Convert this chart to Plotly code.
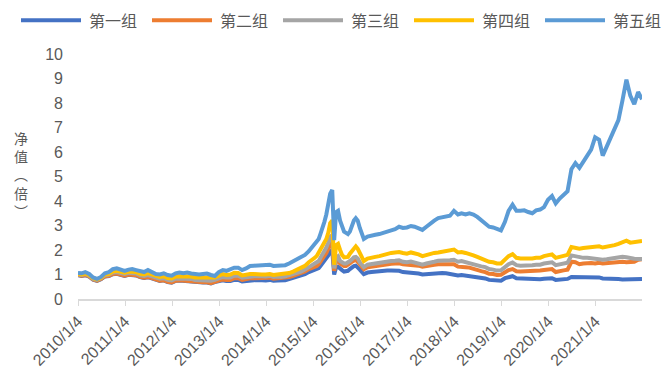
import plotly.graph_objects as go

# ---- categories (dates) ----
years = list(range(2010, 2022))
dates = []
for y in years:
    for m in range(1, 13):
        if y == 2015:
            dates.append(f"{y}-{m:02d}-01")
            dates.append(f"{y}-{m:02d}-16")
        else:
            dates.append(f"{y}-{m:02d}-01")
dates[0] = "2010-01-04"
dates.append("2021-12-31")

tick_dates = [f"{y}-01-04" for y in years]
tick_labels = [f"{y}/1/4" for y in years]

series_names = ["第一组", "第二组", "第三组", "第四组", "第五组"]

# ---- series values ----
g1 = [
    0.97, 0.94, 0.97, 0.91, 0.79, 0.74, 0.81, 0.92, 0.94, 1.01, 1.03, 0.97,
    0.94, 0.99, 0.99, 0.96, 0.89, 0.86, 0.89, 0.84, 0.77, 0.74, 0.76, 0.69,
    0.67, 0.74, 0.75, 0.73, 0.75, 0.72, 0.69, 0.67, 0.67, 0.67, 0.64, 0.69,
    0.72, 0.76, 0.73, 0.73, 0.78, 0.78, 0.72, 0.75, 0.77, 0.77, 0.78, 0.76,
    0.76, 0.78, 0.75, 0.76, 0.75, 0.77, 0.81, 0.85, 0.90, 0.95, 1.01, 1.10,
    1.16, 1.18, 1.20, 1.26, 1.35, 1.45, 1.55, 1.65, 1.78, 1.95, 1.98, 1.00,
    1.30, 1.32, 1.22, 1.18, 1.12, 1.12, 1.15, 1.22, 1.30, 1.34, 1.36, 1.30,
    1.20, 1.02, 1.08, 1.10, 1.12, 1.12, 1.15, 1.16, 1.16, 1.16, 1.15, 1.10,
    1.08, 1.10, 1.08, 1.04, 1.00, 1.02, 1.04, 1.06, 1.08, 1.06, 1.05, 1.02,
    1.02, 0.96, 0.98, 0.96, 0.95, 0.92, 0.90, 0.86, 0.84, 0.78, 0.77, 0.74,
    0.75, 0.85, 0.90, 0.93, 0.85, 0.84, 0.82, 0.80, 0.82, 0.82, 0.81, 0.83,
    0.85, 0.85, 0.78, 0.80, 0.80, 0.82, 0.90, 0.90, 0.86, 0.87, 0.88, 0.88,
    0.87, 0.88, 0.84, 0.84, 0.85, 0.84, 0.82, 0.80, 0.80, 0.80, 0.80, 0.81,
    0.82,
]
g2 = [
    0.98, 0.95, 0.98, 0.92, 0.80, 0.75, 0.82, 0.93, 0.95, 1.02, 1.04, 0.98,
    0.95, 1.00, 1.00, 0.97, 0.90, 0.87, 0.90, 0.85, 0.78, 0.75, 0.77, 0.70,
    0.68, 0.75, 0.76, 0.74, 0.76, 0.73, 0.70, 0.68, 0.68, 0.68, 0.65, 0.70,
    0.75, 0.80, 0.78, 0.78, 0.85, 0.85, 0.78, 0.82, 0.85, 0.85, 0.86, 0.84,
    0.84, 0.87, 0.83, 0.85, 0.83, 0.86, 0.90, 0.95, 1.00, 1.05, 1.12, 1.22,
    1.28, 1.30, 1.35, 1.42, 1.52, 1.62, 1.75, 1.88, 2.05, 2.25, 2.30, 1.15,
    1.55, 1.58, 1.45, 1.40, 1.35, 1.35, 1.38, 1.45, 1.52, 1.58, 1.60, 1.52,
    1.40, 1.22, 1.30, 1.33, 1.35, 1.36, 1.40, 1.42, 1.44, 1.45, 1.46, 1.42,
    1.40, 1.42, 1.40, 1.36, 1.32, 1.36, 1.38, 1.40, 1.42, 1.43, 1.44, 1.42,
    1.42, 1.32, 1.33, 1.30, 1.28, 1.22, 1.18, 1.14, 1.10, 1.03, 1.02, 0.98,
    0.99, 1.10, 1.18, 1.22, 1.13, 1.12, 1.12, 1.12, 1.14, 1.15, 1.16, 1.18,
    1.20, 1.22, 1.10, 1.15, 1.17, 1.20, 1.52, 1.50, 1.42, 1.45, 1.48, 1.47,
    1.45, 1.48, 1.45, 1.47, 1.50, 1.50, 1.50, 1.52, 1.50, 1.50, 1.52, 1.60,
    1.62,
]
g3 = [
    1.00, 0.98, 1.02, 0.95, 0.82, 0.78, 0.85, 0.97, 1.00, 1.08, 1.10, 1.05,
    1.02, 1.07, 1.07, 1.04, 0.97, 0.94, 0.98, 0.93, 0.85, 0.83, 0.85, 0.78,
    0.76, 0.83, 0.84, 0.83, 0.85, 0.82, 0.78, 0.77, 0.78, 0.78, 0.75, 0.78,
    0.85, 0.90, 0.88, 0.88, 0.95, 0.95, 0.87, 0.90, 0.93, 0.93, 0.94, 0.92,
    0.92, 0.95, 0.90, 0.92, 0.90, 0.93, 0.97, 1.02, 1.08, 1.12, 1.20, 1.30,
    1.38, 1.42, 1.48, 1.55, 1.68, 1.80, 1.95, 2.10, 2.30, 2.55, 2.60, 1.25,
    1.70, 1.75, 1.55, 1.50, 1.45, 1.45, 1.48, 1.55, 1.62, 1.70, 1.72, 1.65,
    1.50, 1.30, 1.40, 1.43, 1.45, 1.47, 1.50, 1.53, 1.55, 1.56, 1.58, 1.52,
    1.50, 1.53, 1.50, 1.45, 1.40, 1.45, 1.50, 1.52, 1.56, 1.58, 1.60, 1.58,
    1.60, 1.52, 1.55, 1.50, 1.48, 1.42, 1.38, 1.33, 1.30, 1.22, 1.20, 1.16,
    1.17, 1.30, 1.42, 1.49, 1.38, 1.36, 1.36, 1.35, 1.38, 1.40, 1.40, 1.45,
    1.48, 1.50, 1.38, 1.42, 1.45, 1.48, 1.78, 1.75, 1.68, 1.68, 1.68, 1.66,
    1.63, 1.65, 1.60, 1.62, 1.65, 1.68, 1.70, 1.72, 1.70, 1.65, 1.64, 1.63,
    1.63,
]
g4 = [
    1.02, 1.00, 1.04, 0.97, 0.85, 0.80, 0.87, 1.00, 1.03, 1.12, 1.15, 1.10,
    1.07, 1.12, 1.13, 1.10, 1.03, 1.00, 1.06, 1.00, 0.92, 0.90, 0.93, 0.86,
    0.84, 0.92, 0.93, 0.92, 0.95, 0.92, 0.88, 0.88, 0.90, 0.90, 0.86, 0.88,
    0.95, 1.02, 0.98, 1.00, 1.07, 1.06, 0.96, 1.00, 1.02, 1.02, 1.03, 1.00,
    1.00, 1.02, 0.98, 1.00, 0.99, 1.02, 1.06, 1.12, 1.20, 1.25, 1.35, 1.50,
    1.60, 1.68, 1.76, 1.90, 2.00, 2.15, 2.30, 2.45, 2.70, 3.10, 3.20, 1.40,
    2.20, 2.25, 2.00, 1.80, 1.70, 1.70, 1.72, 1.85, 1.95, 2.10, 2.15, 2.05,
    1.85, 1.55, 1.65, 1.70, 1.72, 1.75, 1.80, 1.85, 1.88, 1.90, 1.92, 1.88,
    1.85, 1.90, 1.88, 1.82, 1.75, 1.80, 1.85, 1.88, 1.90, 1.92, 1.95, 1.98,
    2.02, 1.90, 1.92, 1.88, 1.85, 1.78, 1.72, 1.65, 1.60, 1.52, 1.50, 1.45,
    1.45, 1.60, 1.75, 1.83, 1.68, 1.65, 1.65, 1.62, 1.65, 1.68, 1.68, 1.75,
    1.80, 1.82, 1.68, 1.72, 1.75, 1.80, 2.12, 2.10, 2.05, 2.08, 2.10, 2.10,
    2.12, 2.15, 2.10, 2.12, 2.18, 2.20, 2.25, 2.30, 2.38, 2.30, 2.32, 2.35,
    2.37,
]
g5 = [
    1.06, 1.05, 1.10, 1.02, 0.88, 0.82, 0.90, 1.05, 1.10, 1.22, 1.25, 1.18,
    1.15, 1.20, 1.22, 1.18, 1.12, 1.10, 1.18, 1.10, 1.02, 1.00, 1.05, 0.98,
    0.95, 1.05, 1.08, 1.05, 1.08, 1.04, 1.00, 1.00, 1.02, 1.04, 0.98, 0.94,
    1.10, 1.18, 1.15, 1.20, 1.28, 1.28, 1.18, 1.25, 1.35, 1.36, 1.38, 1.40,
    1.38, 1.40, 1.35, 1.36, 1.34, 1.38, 1.45, 1.55, 1.65, 1.72, 1.80, 1.95,
    2.15, 2.20, 2.30, 2.45, 2.65, 2.85, 3.15, 3.45, 3.80, 4.30, 4.45, 2.40,
    3.55, 3.60, 3.20, 3.00, 2.75, 2.70, 2.65, 2.75, 3.00, 3.20, 3.30, 3.20,
    2.90, 2.45, 2.55, 2.60, 2.62, 2.65, 2.72, 2.75, 2.80, 2.85, 2.95, 2.90,
    2.92, 2.98, 2.95, 2.90, 2.82, 2.95, 3.10, 3.20, 3.30, 3.32, 3.38, 3.40,
    3.60, 3.45, 3.50, 3.45, 3.50, 3.45, 3.35, 3.20, 3.10, 2.95, 2.92, 2.85,
    2.80, 3.15, 3.60, 3.85, 3.60, 3.60, 3.62, 3.55, 3.50, 3.62, 3.65, 3.75,
    4.05, 4.20, 3.90, 4.10, 4.25, 4.40, 5.30, 5.55, 5.35, 5.60, 5.80, 6.10,
    6.60, 6.50, 5.85, 6.20, 6.55, 6.90, 7.30, 8.10, 8.95, 8.30, 7.95, 8.45,
    8.15,
]

colors = ["#4472C4", "#ED7D31", "#A5A5A5", "#FFC000", "#5B9BD5"]
all_series = [g1, g2, g3, g4, g5]

# ---- layout geometry (pixels) ----
W, H = 663, 381
L, R, T, B = 78, 21, 54, 80
PW, PH = W - L - R, H - T - B
TXT = "#595959"
CJK = "Noto Sans CJK SC"
LAT = "Liberation Sans, Arial, sans-serif"


def px_x(px):
    return (px - L) / PW


def px_y(py):
    return (H - B - py) / PH


fig = go.Figure()
for name, vals, col in zip(series_names, all_series, colors):
    fig.add_trace(go.Scatter(
        x=dates, y=vals, mode="lines", name=name,
        line=dict(color=col, width=4), showlegend=False,
        hoverinfo="x+y+name"))

shapes = []
annotations = []
# custom legend (line sample + label)
for i, (name, col) in enumerate(zip(series_names, colors)):
    x0 = 21 + i * 131
    shapes.append(dict(type="line", xref="paper", yref="paper",
                       x0=px_x(x0), x1=px_x(x0 + 60), y0=px_y(20), y1=px_y(20),
                       line=dict(color=col, width=4)))
    annotations.append(dict(xref="paper", yref="paper", x=px_x(x0 + 66), y=px_y(20),
                            text=name, showarrow=False, xanchor="left", yanchor="middle",
                            font=dict(family=CJK, size=16, color=TXT)))

# vertical y-axis title (stacked characters)
annotations.append(dict(xref="paper", yref="paper", x=px_x(21), y=px_y(175),
                        text="净<br>值<br>︵<br>倍<br>︶", showarrow=False,
                        xanchor="center", yanchor="middle", align="center",
                        font=dict(family=CJK, size=14, color=TXT)))

fig.update_layout(
    width=W, height=H,
    margin=dict(l=L, r=R, t=T, b=B, pad=0),
    paper_bgcolor="white", plot_bgcolor="white",
    showlegend=False,
    shapes=shapes, annotations=annotations,
    xaxis=dict(type="date", range=["2010-01-04", "2021-12-31"],
               tickvals=tick_dates, ticktext=tick_labels, tickangle=-45,
               ticks="outside", ticklen=5, tickcolor="#D9D9D9", tickwidth=1,
               showline=True, linecolor="#D9D9D9", linewidth=1.5,
               showgrid=False, zeroline=False,
               tickfont=dict(family=LAT, size=16, color=TXT)),
    yaxis=dict(range=[0, 10], tickvals=list(range(0, 11)),
               showgrid=False, zeroline=False, showline=False, ticks="",
               ticklabelstandoff=14,
               tickfont=dict(family=LAT, size=16, color=TXT)),
)

fig.write_html("out.html", config={"displayModeBar": False},
               post_script="document.body.style.margin='0';")
